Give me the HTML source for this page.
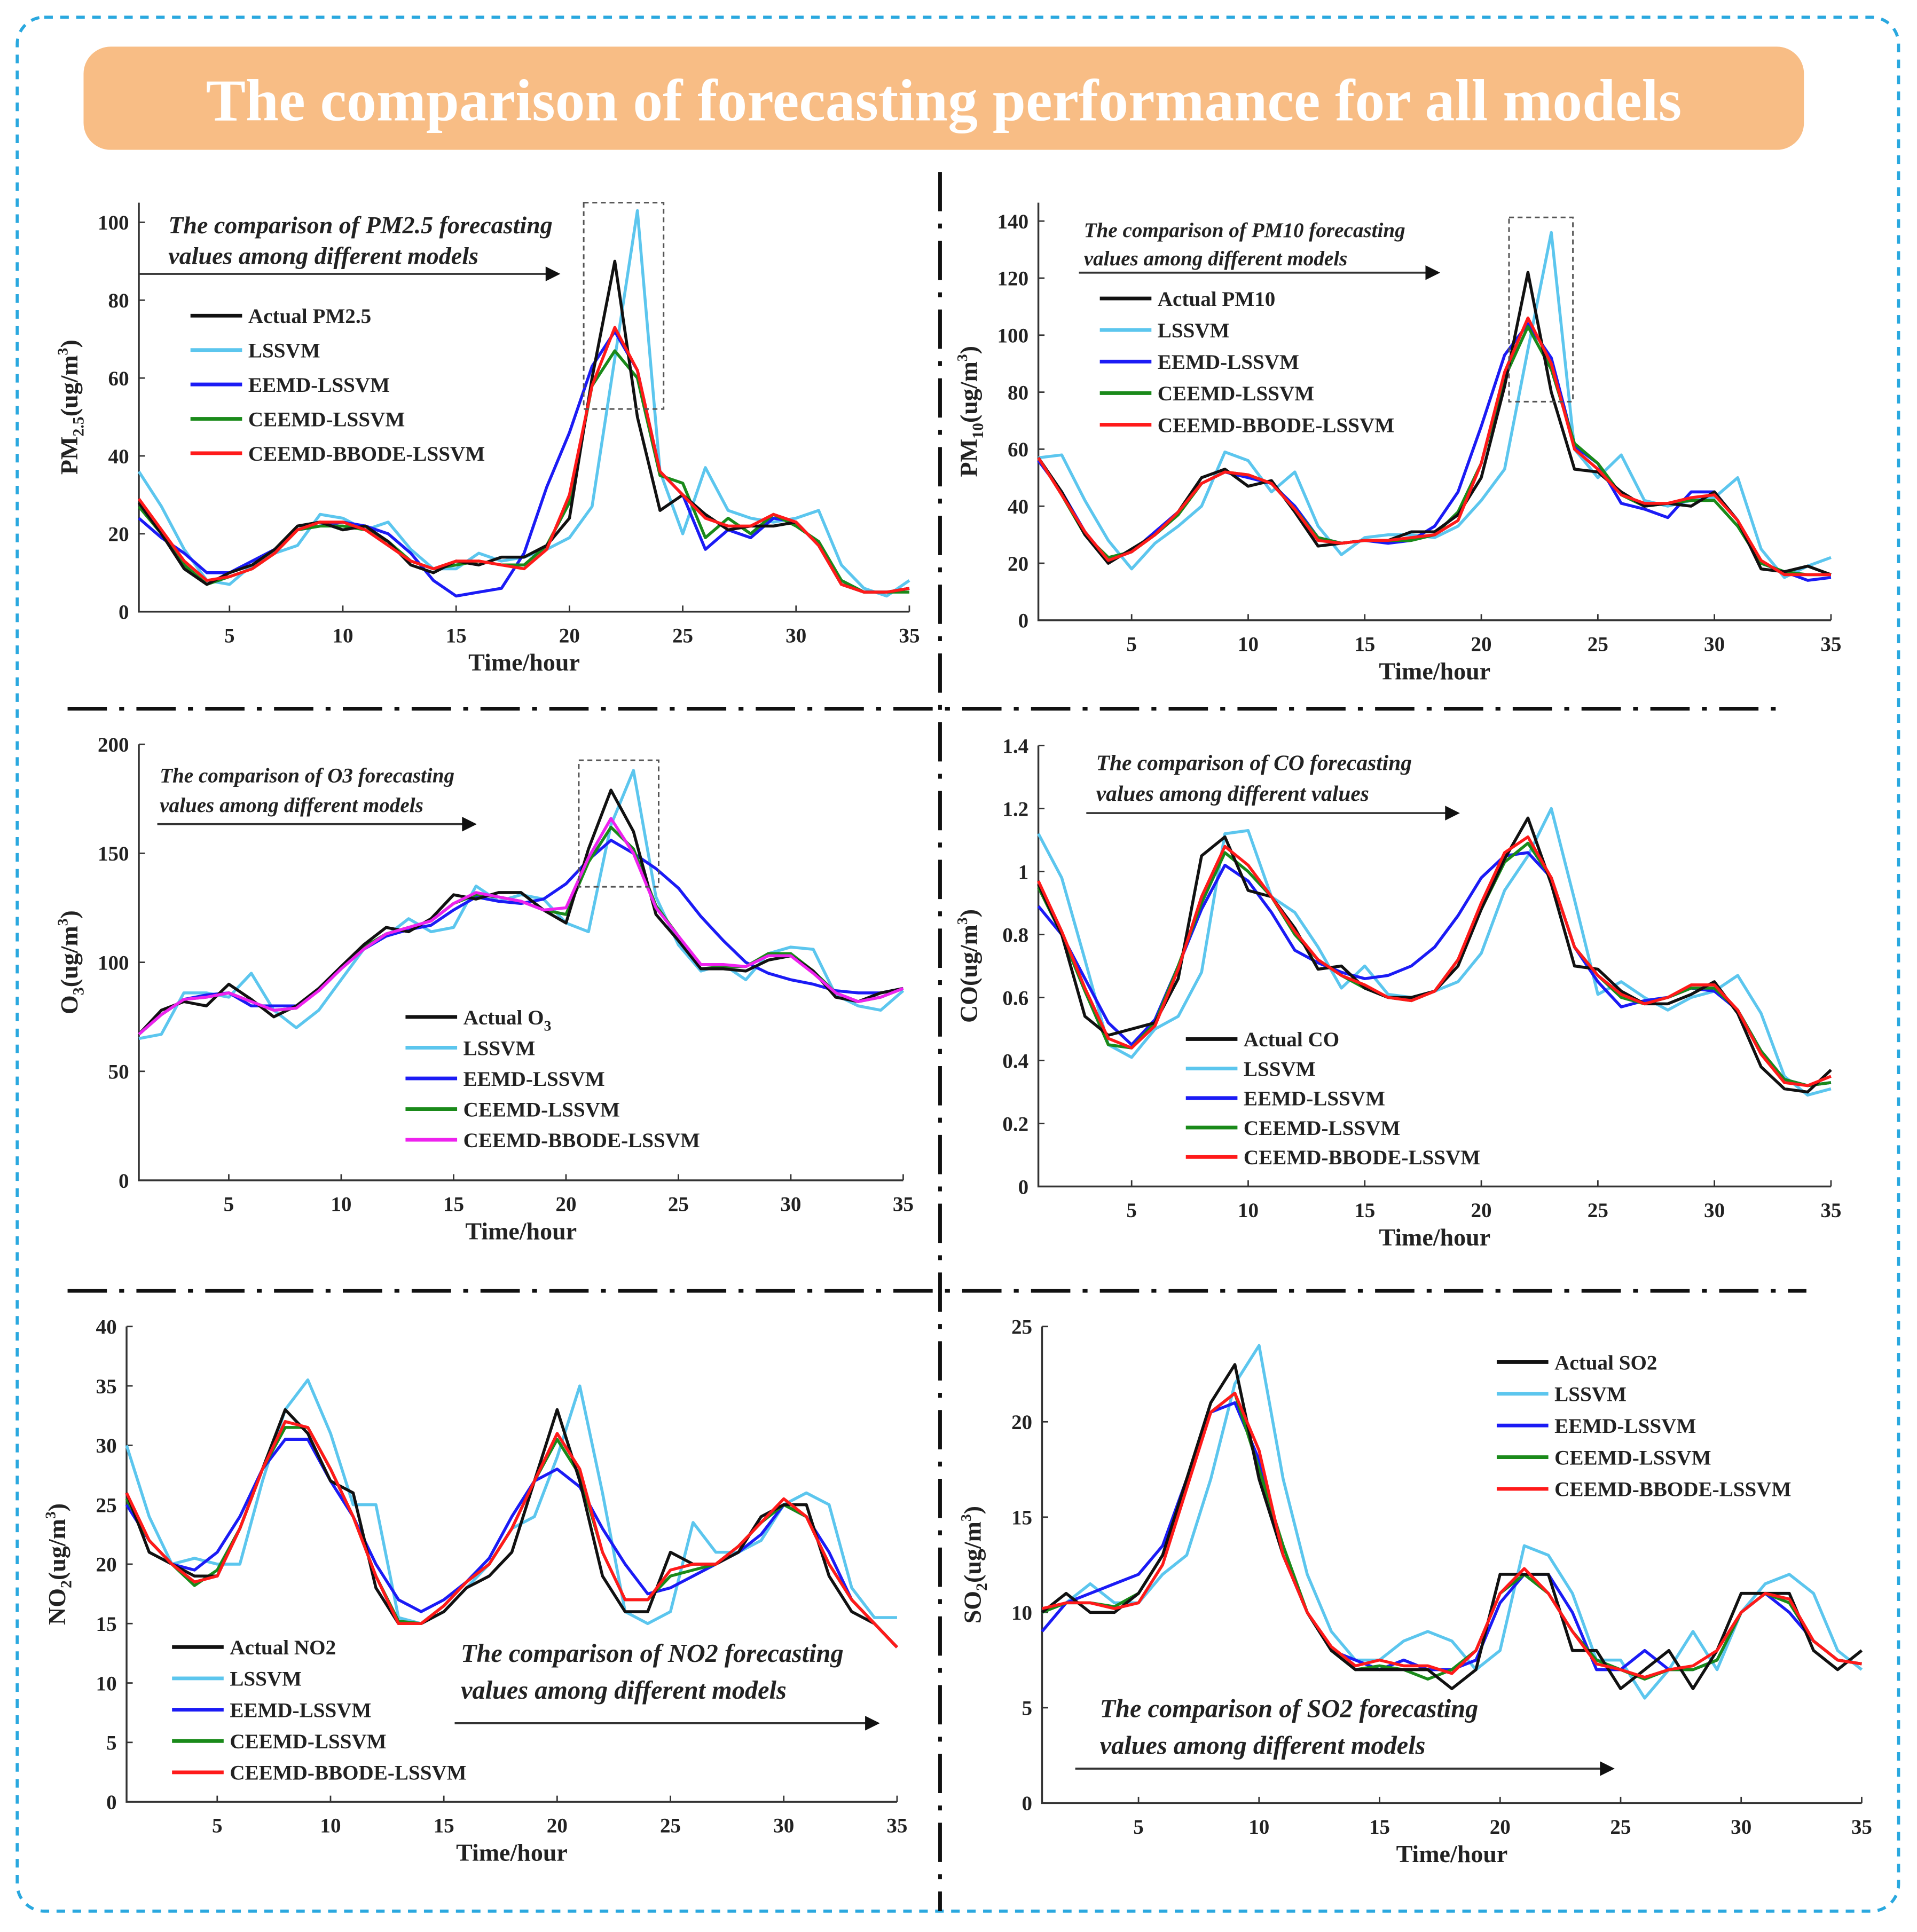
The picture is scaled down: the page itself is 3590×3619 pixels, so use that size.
<!DOCTYPE html>
<html><head><meta charset="utf-8">
<style>
html,body{margin:0;padding:0;background:#fff;}
svg{display:block;}
text{font-family:"Liberation Serif",serif;font-weight:bold;fill:#222;}
</style></head>
<body>
<svg id="fig" width="3590" height="3619" viewBox="0 0 1560 1573" preserveAspectRatio="none" xmlns="http://www.w3.org/2000/svg">
<rect x="14" y="14" width="1531" height="1542" rx="22" fill="none" stroke="#2aa8df" stroke-width="2.5" stroke-dasharray="7,6"/>
<rect x="68" y="38" width="1400" height="84" rx="22" fill="#f8bd85"/>
<text x="768" y="98" text-anchor="middle" font-size="48.5" style="fill:#fff">The comparison of forecasting performance for all models</text>
<line x1="765" y1="140" x2="765" y2="1556" stroke="#111" stroke-width="3" stroke-dasharray="32,10,4,10"/>
<line x1="55" y1="577" x2="1445" y2="577" stroke="#111" stroke-width="3" stroke-dasharray="32,10,4,10"/>
<line x1="55" y1="1051" x2="1470" y2="1051" stroke="#111" stroke-width="3" stroke-dasharray="32,10,4,10"/>
<g id="charts"></g>
</svg>
<script>
const hours = Array.from({length:35},(_,i)=>i+1);
const seriesNames = ["Actual","LSSVM","EEMD-LSSVM","CEEMD-LSSVM","CEEMD-BBODE-LSSVM"];

const pm25Actual = [28,20,11,7,10,12,16,22,23,21,22,18,12,10,13,12,14,14,17,24,60,90,50,26,30,25,21,22,22,23,17,7,5,5,6];
const pm25Lssvm  = [36,27,16,8,7,12,15,17,25,24,21,23,16,11,11,15,13,14,16,19,27,65,103,36,20,37,26,24,23,24,26,12,6,4,8];
const pm25Eemd   = [24,19,15,10,10,13,16,21,22,23,22,20,15,8,4,5,6,15,32,46,63,72,62,36,30,16,21,19,24,23,17,8,5,5,6];
const pm25Ceemd  = [27,20,12,7,9,11,15,21,22,22,21,18,13,11,12,13,12,12,17,28,58,67,60,35,33,19,24,20,25,22,18,8,5,5,5];
const pm25Hybrid = [29,21,13,8,9,11,15,21,23,23,21,17,13,11,13,13,12,11,16,30,58,73,62,36,30,24,22,22,25,23,17,7,5,5,6];

const pm10Actual = [57,45,30,20,25,30,38,50,53,47,49,38,26,27,28,28,31,31,37,50,82,122,80,53,52,45,40,41,40,45,35,18,17,19,16];
const pm10Lssvm  = [57,58,42,28,18,27,33,40,59,56,45,52,33,23,29,30,30,29,33,42,53,95,136,60,50,58,42,40,42,43,50,25,15,19,22];
const pm10Eemd   = [56,45,31,21,24,31,38,48,52,50,48,40,29,27,28,27,28,33,45,68,93,104,92,61,55,41,39,36,45,45,35,20,17,14,15];
const pm10Ceemd  = [57,44,30,22,24,30,37,48,52,51,48,39,29,27,28,28,28,30,38,55,85,103,88,62,55,44,40,41,42,42,33,20,17,16,16];
const pm10Hybrid = [57,44,31,21,24,30,38,48,52,51,48,39,28,27,28,28,29,30,35,55,87,106,90,60,53,44,41,41,43,44,35,21,16,16,16];

const o3Actual = [67,78,82,80,90,83,75,80,88,98,108,116,114,120,131,129,132,132,124,118,152,179,160,122,110,97,97,96,101,103,96,84,82,86,88];
const o3Lssvm  = [65,67,86,86,84,95,78,70,78,92,106,112,120,114,116,135,128,131,129,118,114,163,188,130,108,96,99,92,104,107,106,85,80,78,87];
const o3Eemd   = [67,76,83,85,86,80,80,80,87,97,106,112,115,117,124,130,128,127,129,136,147,156,150,143,134,121,110,100,95,92,90,87,86,86,88];
const o3Ceemd  = [67,76,83,84,86,82,78,79,88,97,107,113,116,119,127,131,130,128,124,122,146,162,152,126,112,97,98,98,104,104,96,86,82,84,88];
const o3Hybrid = [67,76,83,84,86,82,78,79,87,97,106,113,116,119,127,132,130,128,124,125,148,166,150,125,112,99,99,98,103,103,95,86,82,84,88];

const coActual = [.96,.8,.54,.48,.5,.52,.66,1.05,1.11,.94,.92,.82,.69,.70,.63,.60,.60,.62,.70,.88,1.04,1.17,.96,.70,.69,.62,.58,.58,.61,.65,.55,.38,.31,.30,.37];
const coLssvm  = [1.12,.98,.72,.45,.41,.5,.54,.68,1.12,1.13,.92,.87,.76,.63,.70,.61,.60,.62,.65,.74,.94,1.05,1.20,.91,.61,.65,.60,.56,.60,.62,.67,.55,.35,.29,.31];
const coEemd   = [.89,.80,.66,.52,.45,.53,.70,.88,1.02,.97,.87,.75,.71,.68,.66,.67,.70,.76,.86,.98,1.05,1.06,.98,.76,.65,.57,.59,.60,.63,.62,.56,.43,.34,.32,.33];
const coCeemd  = [.95,.80,.62,.45,.44,.52,.70,.90,1.06,1.00,.92,.80,.72,.67,.63,.60,.59,.62,.72,.88,1.03,1.09,.98,.76,.67,.60,.58,.60,.63,.63,.56,.43,.34,.32,.33];
const coHybrid = [.97,.81,.63,.47,.44,.51,.69,.92,1.08,1.02,.92,.81,.72,.67,.64,.60,.59,.62,.72,.90,1.06,1.11,.98,.76,.67,.61,.58,.60,.64,.64,.56,.42,.33,.32,.35];

const no2Actual = [26,21,20,19,19,23,28,33,31,27,26,18,15,15,16,18,19,21,27,33,27,19,16,16,21,20,20,21,24,25,25,19,16,15,13];
const no2Lssvm  = [30,24,20,20.5,20,20,27,33,35.5,31,25,25,15.5,15,16,18,20,23,24,29,35,26,16,15,16,23.5,21,21,22,25,26,25,18,15.5,15.5];
const no2Eemd   = [25,22,20,19.5,21,24,28,30.5,30.5,27,24,20,17,16,17,18.5,20.5,24,27,28,26.5,23,20,17.5,18,19,20,21,22.5,25,24,21,17,15,13];
const no2Ceemd  = [25.5,22,20,18.2,19.5,23,28,31.5,31.5,28,24,19,15.2,15,16.5,18.5,20,23,27,30.5,27.5,21,17,17,19,19.5,20,21.5,23.5,25,24,20,17,15,13];
const no2Hybrid = [26,22,20,18.5,19,23,28,32,31.5,28,24,19,15,15,16.5,18.5,20,23,27,31,28,21,17,17,19.5,20,20,21.5,23.5,25.5,24,20,17,15,13];

const so2Actual = [10,11,10,10,11,13,17,21,23,17,13,10,8,7,7,7,7,6,7,12,12,12,8,8,6,7,8,6,8,11,11,11,8,7,8];
const so2Lssvm  = [10,10.5,11.5,10.5,10.5,12,13,17,22,24,17,12,9,7.5,7.5,8.5,9,8.5,7,8,13.5,13,11,7.5,7.5,5.5,7,9,7,10,11.5,12,11,8,7];
const so2Eemd   = [9,10.5,11,11.5,12,13.5,17,20.5,21,18,13,10,8,7.5,7,7.5,7,7,7.5,10.5,12,12,10,7,7,8,7,7,7.5,10,11,10,8.5,7.5,7.3];
const so2Ceemd  = [10,10.5,10.5,10.3,11,13,17,20.5,21.5,17.5,13.5,10,8,7,7.2,7,6.5,7,8,11,12,11,9,7.5,7,6.5,7,7,7.5,10,11,10.5,8.5,7.5,7.3];
const so2Hybrid = [10.2,10.5,10.5,10.2,10.5,12.5,16.5,20.5,21.5,18.5,13,10,8.2,7.2,7.5,7.2,7.2,6.8,8,11,12.3,11,9,7.3,7,6.6,7,7.2,8,10,11,10.7,8.5,7.5,7.3];

const xTicks = [5,10,15,20,25,30,35];
const pm25YTicks = [0,20,40,60,80,100];
const pm10YTicks = [0,20,40,60,80,100,120,140];
const o3YTicks = [0,50,100,150,200];
const coYTicks = [0,0.2,0.4,0.6,0.8,1,1.2,1.4];
const no2YTicks = [0,5,10,15,20,25,30,35,40];
const so2YTicks = [0,5,10,15,20,25];

const NS="http://www.w3.org/2000/svg";
const root=document.getElementById('charts');
function mk(tag,attrs,parent){const e=document.createElementNS(NS,tag);for(const k in attrs)e.setAttribute(k,attrs[k]);(parent||root).appendChild(e);return e;}

function chart(cfg){
  const g=mk('g',{});
  
  
  const xs=v=>cfg.x0+(v-1)/(34)*(cfg.x1-cfg.x0);
  const ys=v=>cfg.y0-(v/cfg.ymax)*(cfg.y0-cfg.yTop);
  const ax=mk('path',{d:`M${cfg.x0},${cfg.yAxisTop} L${cfg.x0},${cfg.y0} L${cfg.x1},${cfg.y0}`,fill:'none',stroke:'#333','stroke-width':1.5},g);
  
  
  cfg.yTicks.forEach(t=>{
    mk('line',{x1:cfg.x0,x2:cfg.x0+5,y1:ys(t),y2:ys(t),stroke:'#333','stroke-width':1.2},g);
    const tx=mk('text',{x:cfg.x0-8,y:ys(t)+6,'text-anchor':'end','font-size':17},g);
    tx.textContent=String(t);
    
    
  });
  xTicks.forEach(t=>{
    mk('line',{x1:xs(t),x2:xs(t),y1:cfg.y0,y2:cfg.y0-5,stroke:'#333','stroke-width':1.2},g);
    const tx=mk('text',{x:xs(t),y:cfg.y0+25,'text-anchor':'middle','font-size':17},g);
    tx.textContent=String(t);
    
    
  });
  const xl=mk('text',{x:(cfg.x0+cfg.x1)/2,y:cfg.y0+48,'text-anchor':'middle','font-size':20},g);
  xl.textContent='Time/hour';
  
  
  const yl=mk('text',{x:0,y:0,'text-anchor':'middle','font-size':20,transform:`translate(${cfg.x0-50},${(cfg.y0+cfg.yAxisTop)/2}) rotate(-90)`},g);
  yl.innerHTML=cfg.ylabel;
  
  
  const colors=['#111','#5cc6ee','#1b1bf5','#1a8a1a',cfg.lastColor||'#ff1a1a'];
  const order=[1,2,3,0,4];
  order.forEach(i=>{
    const d=cfg.series[i].map((v,j)=>(j?'L':'M')+xs(hours[j]).toFixed(1)+','+ys(v).toFixed(1)).join(' ');
    const p=mk('path',{d:d,fill:'none',stroke:colors[i],'stroke-width':2.4,'stroke-linejoin':'round'},g);
    
    
  });
  cfg.legend.labels.forEach((lab,i)=>{
    const y=cfg.legend.y+i*cfg.legend.dy;
    mk('line',{x1:cfg.legend.x,x2:cfg.legend.x+42,y1:y,y2:y,stroke:colors[i],'stroke-width':3},g);
    const tx=mk('text',{x:cfg.legend.x+47,y:y+6,'font-size':17},g);
    tx.innerHTML=lab;
    
    
  });
  const a=cfg.ann;
  [a.l1,a.l2].forEach((s,i)=>{
    const tx=mk('text',{x:a.x,y:a.y+i*a.dy,'font-size':a.fs,'font-style':'italic'},g);
    tx.textContent=s;
    
    
  });
  mk('line',{x1:a.ax0,x2:a.ax1-8,y1:a.ay,y2:a.ay,stroke:'#333','stroke-width':1.6},g);
  mk('path',{d:`M${a.ax1},${a.ay} L${a.ax1-12},${a.ay-6} L${a.ax1-12},${a.ay+6} Z`,fill:'#111'},g);
  if(cfg.box){
    const b=mk('rect',{x:cfg.box[0],y:cfg.box[1],width:cfg.box[2]-cfg.box[0],height:cfg.box[3]-cfg.box[1],fill:'none',stroke:'#555','stroke-width':1.3,'stroke-dasharray':'4,3'},g);
    
    
  }
}
const L=(n)=>[n,'LSSVM','EEMD-LSSVM','CEEMD-LSSVM','CEEMD-BBODE-LSSVM'];
const sub=(a,b)=>`${a}<tspan font-size="13" dy="5">${b}</tspan><tspan dy="-5">(ug/m</tspan><tspan font-size="12" dy="-8">3</tspan><tspan dy="8">)</tspan>`;

chart({name:'pm25',x0:113,x1:740,y0:498,yTop:181,ymax:100,yAxisTop:165,yTicks:pm25YTicks,
  series:[pm25Actual,pm25Lssvm,pm25Eemd,pm25Ceemd,pm25Hybrid],ylabel:sub('PM','2.5'),
  legend:{x:155,y:257,dy:28,labels:L('Actual PM2.5')},
  ann:{x:137,y:190,dy:25,fs:20,l1:'The comparison of PM2.5 forecasting',l2:'values among different models',ax0:113,ax1:456,ay:223},
  box:[475,165,540,333]});
chart({name:'pm10',x0:845,x1:1490,y0:505,yTop:180,ymax:140,yAxisTop:165,yTicks:pm10YTicks,
  series:[pm10Actual,pm10Lssvm,pm10Eemd,pm10Ceemd,pm10Hybrid],ylabel:sub('PM','10'),
  legend:{x:895,y:243,dy:25.7,labels:L('Actual PM10')},
  ann:{x:882,y:193,dy:23,fs:17,l1:'The comparison of PM10 forecasting',l2:'values among different models',ax0:878,ax1:1172,ay:222},
  box:[1228,177,1280,327]});
chart({name:'o3',x0:113,x1:735,y0:961,yTop:606,ymax:200,yAxisTop:606,yTicks:o3YTicks,
  series:[o3Actual,o3Lssvm,o3Eemd,o3Ceemd,o3Hybrid],ylabel:sub('O','3'),lastColor:'#ee22ee',
  legend:{x:330,y:828,dy:25,labels:['Actual O<tspan font-size="12" dy="5">3</tspan>','LSSVM','EEMD-LSSVM','CEEMD-LSSVM','CEEMD-BBODE-LSSVM']},
  ann:{x:130,y:637,dy:24,fs:17,l1:'The comparison of O3 forecasting',l2:'values among different models',ax0:128,ax1:388,ay:671},
  box:[471,619,536,722]});
chart({name:'co',x0:845,x1:1490,y0:966,yTop:607,ymax:1.4,yAxisTop:607,yTicks:coYTicks,
  series:[coActual,coLssvm,coEemd,coCeemd,coHybrid],ylabel:'CO(ug/m<tspan font-size="12" dy="-8">3</tspan><tspan dy="8">)</tspan>',
  legend:{x:965,y:846,dy:24,labels:L('Actual CO')},
  ann:{x:892,y:627,dy:25,fs:18,l1:'The comparison of CO forecasting',l2:'values among different values',ax0:884,ax1:1188,ay:662}});
chart({name:'no2',x0:103,x1:730,y0:1467,yTop:1080,ymax:40,yAxisTop:1080,yTicks:no2YTicks,
  series:[no2Actual,no2Lssvm,no2Eemd,no2Ceemd,no2Hybrid],ylabel:sub('NO','2'),
  legend:{x:140,y:1341,dy:25.5,labels:L('Actual NO2')},
  ann:{x:375,y:1353,dy:30,fs:21,l1:'The comparison of NO2 forecasting',l2:'values among different models',ax0:370,ax1:716,ay:1403}});
chart({name:'so2',x0:848,x1:1515,y0:1468,yTop:1080,ymax:25,yAxisTop:1080,yTicks:so2YTicks,
  series:[so2Actual,so2Lssvm,so2Eemd,so2Ceemd,so2Hybrid],ylabel:sub('SO','2'),
  legend:{x:1218,y:1109,dy:25.8,labels:L('Actual SO2')},
  ann:{x:895,y:1398,dy:30,fs:21,l1:'The comparison of SO2 forecasting',l2:'values among different models',ax0:875,ax1:1314,ay:1440}});
</script>
</body></html>
